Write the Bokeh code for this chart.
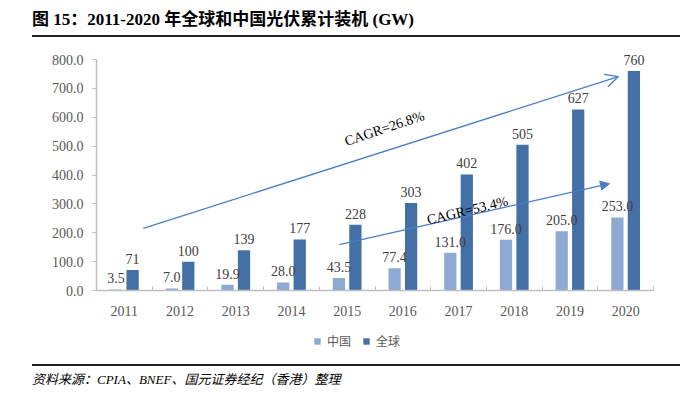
import numpy as np
from bokeh.plotting import figure
from bokeh.layouts import column
from bokeh.models import (ColumnDataSource, Range1d, FixedTicker, NumeralTickFormatter,
                          LabelSet, Label, Arrow, OpenHead, NormalHead, Legend, LegendItem, Div)
from bokeh.embed import file_html
from bokeh.resources import INLINE

# ---- data ----
years = ["2011", "2012", "2013", "2014", "2015", "2016", "2017", "2018", "2019", "2020"]
china = [3.5, 7.0, 19.9, 28.0, 43.5, 77.4, 131.0, 176.0, 205.0, 253.0]
world = [71, 100, 139, 177, 228, 303, 402, 505, 627, 760]
series_names = ["中国", "全球"]
y_ticks = [0, 100, 200, 300, 400, 500, 600, 700, 800]
cagr_world = "CAGR=26.8%"
cagr_china = "CAGR=53.4%"
title_text = "图 15：2011-2020 年全球和中国光伏累计装机 (GW)"
source_text = "资料来源：CPIA、BNEF、国元证券经纪（香港）整理"

C_CHINA = "#8FAAD2"
C_WORLD = "#4470A6"
C_ARROW = "#4A7EC4"
TXT = "#404040"
AXT = "#595959"
AX = "#BFBFBF"
SERIF = "Liberation Serif"

idx = np.arange(len(years)) + 0.5
src = ColumnDataSource(dict(
    xc=idx - 0.148, xw=idx + 0.148,
    china=china, world=world,
    china_lbl=[f"{v:.1f}" for v in china],
    world_lbl=[f"{v:d}" for v in world],
))

# main chart: page y 37 .. 322, frame 45 .. 290
p = figure(width=697, height=285, output_backend="svg", toolbar_location=None,
           x_range=Range1d(0, len(years)), y_range=Range1d(0, 848.5),
           min_border_left=96, min_border_right=44, min_border_top=8, min_border_bottom=32,
           margin=(0, 0, 0, 0))
p.outline_line_color = None
p.xgrid.visible = False
p.ygrid.visible = False
p.background_fill_color = "white"
p.border_fill_color = "white"

rc = p.vbar(x="xc", top="china", width=0.22, source=src, fill_color=C_CHINA, line_color=None)
rw = p.vbar(x="xw", top="world", width=0.22, source=src, fill_color=C_WORLD, line_color=None)

# axes
xa = p.xaxis[0]
xa.ticker = FixedTicker(ticks=list(idx), minor_ticks=list(range(1, len(years) + 1)))
xa.major_label_overrides = {float(i): y for i, y in zip(idx, years)}
xa.major_tick_line_color = None
xa.minor_tick_in = 4
xa.minor_tick_out = 0
xa.minor_tick_line_color = AX
xa.axis_line_color = AX
xa.axis_line_width = 1.5
xa.major_label_text_font = SERIF
xa.major_label_text_font_size = "14px"
xa.major_label_text_color = AXT
xa.major_label_standoff = 9

ya = p.yaxis[0]
ya.ticker = FixedTicker(ticks=y_ticks)
ya.bounds = (0, 800)
ya.formatter = NumeralTickFormatter(format="0.0")
ya.minor_tick_line_color = None
ya.major_tick_in = 0
ya.major_tick_out = 4
ya.major_tick_line_color = AX
ya.axis_line_color = AX
ya.axis_line_width = 1.5
ya.major_label_text_font = SERIF
ya.major_label_text_font_size = "14px"
ya.major_label_text_color = AXT
ya.major_label_standoff = 9

# value labels
for xcol, ycol, tcol in (("xc", "china", "china_lbl"), ("xw", "world", "world_lbl")):
    p.add_layout(LabelSet(x=xcol, y=ycol, text=tcol, source=src, text_align="center",
                          text_baseline="bottom", y_offset=6, text_font=SERIF,
                          text_font_size="14px", text_color=TXT))

# CAGR arrows (data units: x in category slots, y in GW)
p.add_layout(Arrow(x_start=0.84, y_start=215, x_end=9.37, y_end=741,
                   line_color=C_ARROW, line_width=1.3,
                   end=OpenHead(size=13, line_color=C_ARROW, line_width=1.3)))
p.add_layout(Arrow(x_start=4.36, y_start=159, x_end=9.21, y_end=370,
                   line_color=C_ARROW, line_width=1.3,
                   end=NormalHead(size=9, fill_color=C_ARROW, line_color=C_ARROW)))
p.add_layout(Label(x=5.17, y=561, text=cagr_world, angle=18.5, angle_units="deg",
                   text_align="center", text_baseline="middle", text_font=SERIF,
                   text_font_size="14px", text_color="black"))
p.add_layout(Label(x=6.66, y=277, text=cagr_china, angle=13.5, angle_units="deg",
                   text_align="center", text_baseline="middle", text_font=SERIF,
                   text_font_size="14px", text_color="black"))

# legend strip: page y 322 .. 364 (its frame is aligned with the main frame, x from 96)
pl = figure(width=697, height=42, output_backend="svg", toolbar_location=None,
            x_range=Range1d(0, 1), y_range=Range1d(0, 1), x_axis_type=None, y_axis_type=None,
            min_border=0, margin=(0, 0, 0, 0))
pl.outline_line_color = None
pl.xgrid.visible = False
pl.ygrid.visible = False
# zero-height swatch renderers; only their legend glyphs show
lc = pl.vbar(x=[0.5], top=[0], bottom=[0], width=0.0, fill_color=C_CHINA, line_color=None)
lw = pl.vbar(x=[0.5], top=[0], bottom=[0], width=0.0, fill_color=C_WORLD, line_color=None)
leg = Legend(items=[LegendItem(label=series_names[0], renderers=[lc]),
                    LegendItem(label=series_names[1], renderers=[lw])],
             location=(217, 15), orientation="horizontal",
             glyph_width=8, glyph_height=8, label_standoff=6, spacing=11,
             padding=0, margin=0, border_line_color=None, background_fill_alpha=0,
             label_text_font="Noto Sans CJK SC", label_text_font_size="12px",
             label_text_color=AXT, label_height=14)
pl.add_layout(leg, "center")

title_div = Div(
    text=('<div style="box-sizing:border-box;width:648px;height:37px;'
          'border-bottom:2px solid #222;font-family:\'Liberation Serif\',\'Noto Sans CJK SC\';'
          'font-weight:bold;font-size:17px;line-height:20px;padding-top:10px;color:#000;'
          'white-space:nowrap">' + title_text + '</div>'),
    width=648, height=37, margin=(0, 0, 0, 32))
foot_div = Div(
    text=('<div style="box-sizing:border-box;width:648px;height:29px;'
          'border-top:2px solid #222;font-family:\'Liberation Serif\',\'Noto Sans CJK SC\';'
          'font-style:italic;font-size:13px;line-height:16px;padding-top:6px;color:#000;'
          'white-space:nowrap">' + source_text + '</div>'),
    width=648, height=29, margin=(0, 0, 0, 32))

layout = column(title_div, p, pl, foot_div, spacing=0)
open("out.html", "w").write(file_html(layout, INLINE))
